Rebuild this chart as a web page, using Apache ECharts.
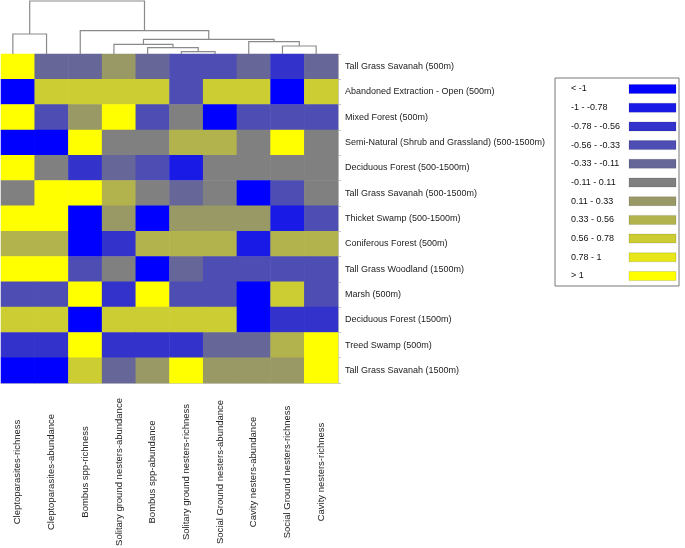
<!DOCTYPE html>
<html>
<head>
<meta charset="utf-8">
<script src="https://cdn.jsdelivr.net/npm/echarts@6/dist/echarts.min.js"></script>
<style>html,body{margin:0;padding:0;background:#fff}#c{width:685px;height:548px}</style>
</head>
<body>
<div id="c"></div>
<script>
// Columns (bee groups), in dendrogram order
const columns = ['Cleptoparasites-richness','Cleptoparasites-abundance','Bombus spp-richness','Solitary ground nesters-abundance','Bombus spp-abundance','Solitary ground nesters-richness','Social Ground nesters-abundance','Cavity nesters-abundance','Social Ground nesters-richness','Cavity nesters-richness'];
// Rows (land cover variables), top to bottom
const rows = ['Tall Grass Savanah (500m)','Abandoned Extraction - Open (500m)','Mixed Forest (500m)','Semi-Natural (Shrub and Grassland) (500-1500m)','Deciduous Forest (500-1500m)','Tall Grass Savanah (500-1500m)','Thicket Swamp (500-1500m)','Coniferous Forest (500m)','Tall Grass Woodland (1500m)','Marsh (500m)','Deciduous Forest (1500m)','Treed Swamp (500m)','Tall Grass Savanah (1500m)'];
// Estimated correlation values (read from colour classes), one array per row
const values = [
  [ 1.2, -0.22, -0.22, 0.22, -0.22, -0.45, -0.45, -0.22, -0.67, -0.22],
  [-1.2,  0.67,  0.67, 0.67,  0.67, -0.45,  0.67,  0.67, -1.2,   0.67],
  [ 1.2, -0.45,  0.22, 1.2,  -0.45,  0,    -1.2,  -0.45, -0.45, -0.45],
  [-1.2, -1.2,   1.2,  0,     0,     0.45,  0.45,  0,     1.2,   0   ],
  [ 1.2,  0,    -0.67,-0.22, -0.45, -0.89,  0,     0,     0,     0   ],
  [ 0,    1.2,   1.2,  0.45,  0,    -0.22,  0,    -1.2,  -0.45,  0   ],
  [ 1.2,  1.2,  -1.2,  0.22, -1.2,   0.22,  0.22,  0.22, -0.89, -0.45],
  [ 0.45, 0.45, -1.2, -0.67,  0.45,  0.45,  0.45, -0.89,  0.45,  0.45],
  [ 1.2,  1.2,  -0.45, 0,    -1.2,  -0.22, -0.45, -0.45, -0.45, -0.45],
  [-0.45,-0.45,  1.2, -0.67,  1.2,  -0.45, -0.45, -1.2,   0.67, -0.45],
  [ 0.67, 0.67, -1.2,  0.67,  0.67,  0.67,  0.67, -1.2,  -0.67, -0.67],
  [-0.67,-0.67,  1.2, -0.67, -0.67, -0.67, -0.22, -0.22,  0.45,  1.2 ],
  [-1.2, -1.2,   0.67,-0.22,  0.22,  1.2,   0.22,  0.22,  0.22,  1.2 ]
];
// Legend classes
const legendLabels = ['< -1','-1 - -0.78','-0.78 - -0.56','-0.56 - -0.33','-0.33 - -0.11','-0.11 - 0.11','0.11 - 0.33','0.33 - 0.56','0.56 - 0.78','0.78 - 1','> 1'];
const classBreaks = [-Infinity,-1,-0.78,-0.56,-0.33,-0.11,0.11,0.33,0.56,0.78,1,Infinity];
const classColors = ['#0000FF','#1A1AE6','#3333CC','#4D4DB3','#666699','#808080','#999966','#B3B34D','#CCCC33','#E6E61A','#FFFF00'];
// Dendrogram merges over columns: node ids 0-9 are leaves, merges get ids 10, 11, ...
const mergeLeft   = [5, 4, 3, 8, 7, 12, 2, 0, 17];
const mergeRight  = [6, 10, 11, 9, 13, 14, 15, 1, 16];
const mergeHeight = [2.3, 6.3, 9.7, 8, 12.3, 14.7, 23.3, 20, 53];

const heatData = [];
values.forEach((r, ri) => r.forEach((v, ci) => heatData.push([ci, ri, v])));

const nodeX = columns.map((_, i) => i);
const nodeH = columns.map(() => 0);
const dendroData = [];
mergeLeft.forEach((l, k) => {
  const r = mergeRight[k], h = mergeHeight[k];
  dendroData.push([nodeX[l], nodeH[l], nodeX[r], nodeH[r], h]);
  nodeX.push((nodeX[l] + nodeX[r]) / 2);
  nodeH.push(h);
});

const pieces = classColors.map((c, i) => {
  const p = { color: c };
  if (isFinite(classBreaks[i])) p.gte = classBreaks[i];
  if (isFinite(classBreaks[i + 1])) p.lt = classBreaks[i + 1];
  return p;
});

const FONT = "'Liberation Sans', Arial, sans-serif";
const legendChildren = [{
  type: 'rect', shape: { x: 0, y: 0, width: 124, height: 208 },
  style: { fill: '#fff', stroke: '#777', lineWidth: 1 }
}];
legendLabels.forEach((t, i) => {
  const cy = 11 + i * 18.7;
  legendChildren.push({ type: 'text', x: 16, y: cy, style: { text: t, fill: '#111', font: '9px ' + FONT, verticalAlign: 'middle' } });
  legendChildren.push({ type: 'rect', shape: { x: 74, y: cy - 4.5, width: 47, height: 9 }, style: { fill: classColors[i], stroke: 'rgba(0,0,0,0.12)', lineWidth: 1 } });
});

const chart = echarts.init(document.getElementById('c'));
chart.setOption({
  animation: false,
  backgroundColor: '#fff',
  grid: [
    { left: 1, top: 54, right: 347, bottom: 165, outerBoundsMode: 'none', containLabel: false },
    { left: -4, top: 1, right: 352, height: 53, outerBoundsMode: 'none', containLabel: false }
  ],
  xAxis: [
    { type: 'category', gridIndex: 0, data: columns,
      axisLine: { lineStyle: { color: '#c8c8c8' } },
      axisTick: { length: 3, lineStyle: { color: '#c8c8c8' } },
      axisLabel: { rotate: 90, align: 'center', margin: 89, fontSize: 9.5, fontFamily: FONT, color: '#222', interval: 0 } },
    { type: 'value', gridIndex: 1, min: -0.5, max: 9.5, show: false }
  ],
  yAxis: [
    { type: 'category', gridIndex: 0, data: rows, inverse: true, position: 'right',
      axisLine: { show: true, lineStyle: { color: '#c8c8c8' } },
      axisTick: { show: true, length: 3, lineStyle: { color: '#c8c8c8' } },
      axisLabel: { margin: 7, fontSize: 9, fontFamily: FONT, color: '#222', interval: 0 } },
    { type: 'value', gridIndex: 1, min: 0, max: 53, show: false }
  ],
  visualMap: { type: 'piecewise', show: false, dimension: 2, pieces: pieces, seriesIndex: 0 },
  series: [
    { type: 'heatmap', xAxisIndex: 0, yAxisIndex: 0, data: heatData, itemStyle: { borderWidth: 0 } },
    { type: 'custom', xAxisIndex: 1, yAxisIndex: 1, data: dendroData, silent: true,
      renderItem: function (params, api) {
        const p1 = api.coord([api.value(0), api.value(1)]);
        const p2 = api.coord([api.value(0), api.value(4)]);
        const p3 = api.coord([api.value(2), api.value(4)]);
        const p4 = api.coord([api.value(2), api.value(3)]);
        return { type: 'polyline', shape: { points: [p1, p2, p3, p4] },
                 style: { fill: 'none', stroke: '#8a8a8a', lineWidth: 1.2 } };
      } }
  ],
  graphic: [{ type: 'group', x: 555, y: 78, children: legendChildren }]
});
</script>
</body>
</html>
